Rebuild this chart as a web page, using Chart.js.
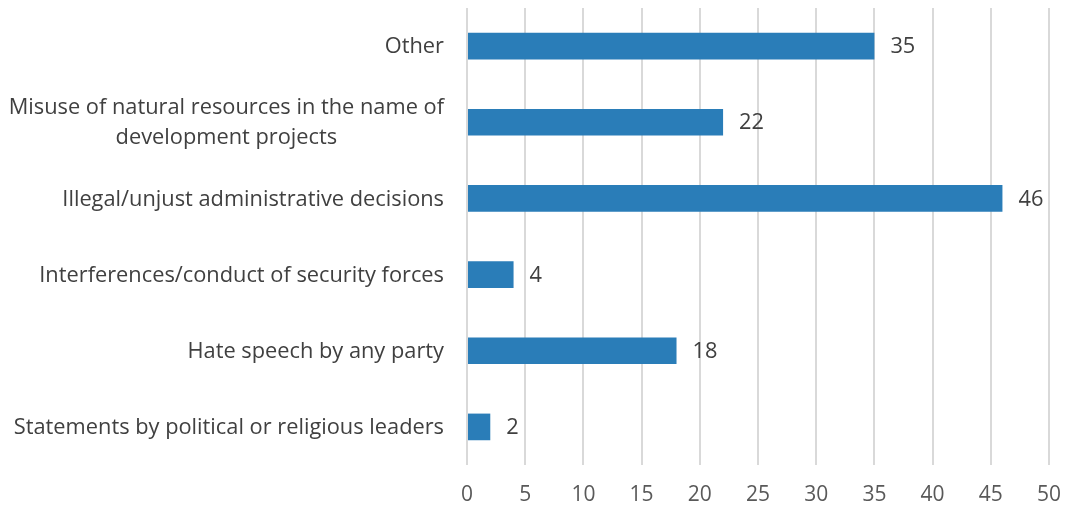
<!DOCTYPE html>
<html>
<head>
<meta charset="utf-8">
<script src="https://cdn.jsdelivr.net/npm/chart.js@4.4.0/dist/chart.umd.min.js"></script>
<style>
  html, body { margin: 0; padding: 0; background: #fff; }
  #wrap { width: 1066px; height: 513px; }
</style>
</head>
<body>
<div id="wrap"><canvas id="chart"></canvas></div>
<script>
// categories, top to bottom
const categories = [
  'Other',
  ['Misuse of natural resources in the name of', 'development projects'],
  'Illegal/unjust administrative decisions',
  'Interferences/conduct of security forces',
  'Hate speech by any party',
  'Statements by political or religious leaders'
];
const counts = [35, 22, 46, 4, 18, 2];
const axisMax = 50;
const axisStep = 5;

const FONT = '"Open Sans", Lato, sans-serif';
const BAR_COLOR = '#2a7db8';
const TEXT_COLOR = '#404040';

// category labels: right aligned block, wrapped lines centred inside the block
const categoryLabels = {
  id: 'categoryLabels',
  afterDraw(chart) {
    const ctx = chart.ctx;
    const y = chart.scales.y;
    const right = chart.chartArea.left - 23;
    ctx.save();
    ctx.font = '21.8px ' + FONT;
    ctx.fillStyle = TEXT_COLOR;
    ctx.textBaseline = 'middle';
    ctx.textAlign = 'center';
    categories.forEach((label, i) => {
      const lines = Array.isArray(label) ? label : [label];
      const widths = lines.map(l => ctx.measureText(l).width);
      const blockW = Math.max(...widths);
      const cx = right - blockW / 2;
      const cy = y.getPixelForValue(i);
      const lh = 30;
      lines.forEach((l, j) => {
        ctx.fillText(l, cx, cy + 1 + (j - (lines.length - 1) / 2) * lh);
      });
    });
    ctx.restore();
  }
};

// value printed just past the end of each bar
const valueLabels = {
  id: 'valueLabels',
  afterDatasetsDraw(chart) {
    const ctx = chart.ctx;
    const meta = chart.getDatasetMeta(0);
    ctx.save();
    ctx.font = '21.8px ' + FONT;
    ctx.fillStyle = TEXT_COLOR;
    ctx.textAlign = 'left';
    ctx.textBaseline = 'middle';
    meta.data.forEach((bar, i) => {
      ctx.fillText(String(counts[i]), bar.x + 16, bar.y + 1);
    });
    ctx.restore();
  }
};

new Chart(document.getElementById('chart'), {
  type: 'bar',
  data: {
    labels: categories,
    datasets: [{
      data: counts,
      backgroundColor: BAR_COLOR,
      borderWidth: 0,
      barPercentage: 0.7,
      categoryPercentage: 0.5
    }]
  },
  options: {
    indexAxis: 'y',
    responsive: true,
    maintainAspectRatio: false,
    animation: false,
    layout: { padding: { top: 8, right: 17, bottom: 0, left: 0 } },
    plugins: {
      legend: { display: false },
      tooltip: { enabled: false }
    },
    scales: {
      x: {
        min: 0,
        max: axisMax,
        ticks: {
          stepSize: axisStep,
          padding: 17,
          color: '#595959',
          font: { family: FONT, size: 21 }
        },
        grid: { color: '#d9d9d9', lineWidth: 2, drawTicks: false },
        border: { display: false },
        afterFit(scale) {
          scale.height = 48;
          // let the last tick label overhang instead of shrinking the plot
          scale.paddingRight = 0;
          scale.paddingLeft = 0;
        }
      },
      y: {
        ticks: { display: false },
        grid: { display: false },
        border: { display: false },
        afterFit(scale) { scale.width = 467; }
      }
    }
  },
  plugins: [categoryLabels, valueLabels]
});
</script>
</body>
</html>
